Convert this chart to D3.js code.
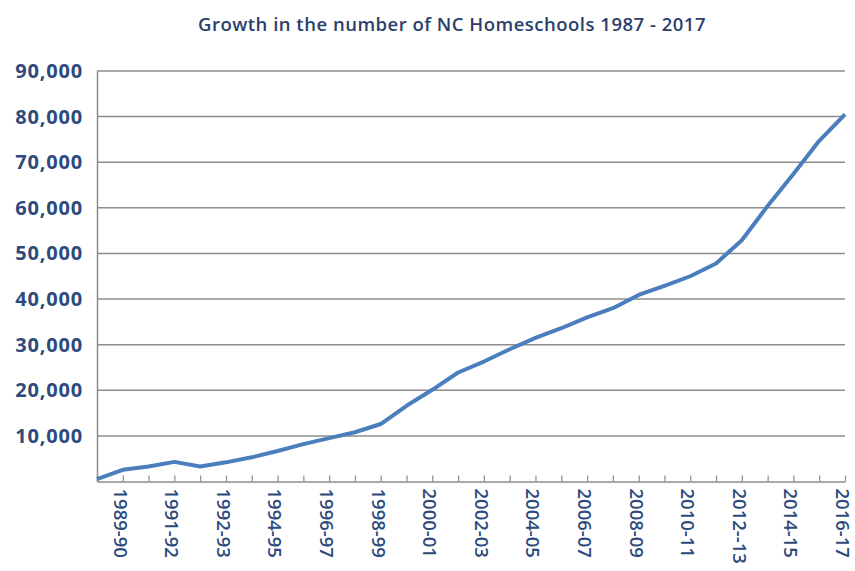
<!DOCTYPE html>
<html>
<head>
<meta charset="utf-8">
<script src="https://cdn.jsdelivr.net/npm/d3@7"></script>
<style>
  html, body { margin: 0; padding: 0; background: #fff; }
  svg { display: block; }
  .title { font-family: "Open Sans", sans-serif; font-weight: 600; font-size: 18.5px; fill: #2b3f6c; letter-spacing: 0.5px; }
  .y-axis text { font-family: "Open Sans", sans-serif; font-weight: 700; font-size: 20px; fill: #2d4a7c; letter-spacing: 0.8px; }
  .x-axis text { font-family: "Open Sans", sans-serif; font-weight: 600; font-size: 18.5px; fill: #2d4a7c; }
</style>
</head>
<body>
<div id="chart"></div>
<script>
// Number of NC homeschools per school year (30 years)
const homeschools = [
  500, 2560, 3300, 4300, 3300, 4200, 5300, 6700, 8200, 9500,
  10800, 12600, 16600, 20100, 23900, 26300, 29000, 31500, 33600, 36000,
  38000, 40900, 42900, 45000, 47800, 52900, 60400, 67400, 74700, 80500,
];

// Labels shown on every second category (as printed on the chart)
const tickLabels = [
  "1989-90", "1991-92", "1992-93", "1994-95", "1996-97", "1998-99", "2000-01", "2002-03",
  "2004-05", "2006-07", "2008-09", "2010-11", "2012--13", "2014-15", "2016-17",
];
const labelIndex = tickLabels.map((_, i) => 2 * i + 1);

const yTicks = [10000, 20000, 30000, 40000, 50000, 60000, 70000, 80000, 90000];

const width = 855;
const height = 571;
const margin = { top: 71, right: 10, bottom: 89.5, left: 97 };

const svg = d3.select("#chart").append("svg").attr("width", width).attr("height", height);

const x = d3.scaleLinear()
  .domain([0, homeschools.length - 1])
  .range([margin.left, width - margin.right]);

const y = d3.scaleLinear()
  .domain([0, 90000])
  .range([height - margin.bottom, margin.top]);

// Title
svg.append("text")
  .attr("class", "title")
  .attr("x", 452)
  .attr("y", 31)
  .attr("text-anchor", "middle")
  .text("Growth in the number of NC Homeschools 1987 - 2017");

// Horizontal gridlines
svg.append("g")
  .selectAll("line")
  .data(yTicks)
  .join("line")
  .attr("x1", margin.left)
  .attr("x2", width - margin.right)
  .attr("y1", (d) => y(d))
  .attr("y2", (d) => y(d))
  .attr("stroke", "#8c8c8c")
  .attr("stroke-width", 1.5);

// Y axis labels
const yAxis = svg.append("g")
  .attr("class", "y-axis")
  .attr("transform", `translate(${margin.left},0)`)
  .call(d3.axisLeft(y).tickValues(yTicks).tickSize(0).tickPadding(14).tickFormat(d3.format(",")));
yAxis.select(".domain").attr("stroke", "#8c8c8c").attr("stroke-width", 1.5);

// X axis: inside ticks on every category, labels on every second
const xAxis = svg.append("g")
  .attr("class", "x-axis")
  .attr("transform", `translate(0,${y(0)})`)
  .call(d3.axisBottom(x)
    .tickValues(d3.range(homeschools.length))
    .tickSizeInner(-6)
    .tickSizeOuter(0)
    .tickFormat((d) => {
      const i = labelIndex.indexOf(d);
      return i >= 0 ? tickLabels[i] : "";
    }));
xAxis.select(".domain").attr("stroke", "#8c8c8c").attr("stroke-width", 1.5);
xAxis.selectAll(".tick line").attr("stroke", "#8c8c8c").attr("stroke-width", 1.2);
xAxis.selectAll(".tick text")
  .attr("transform", "rotate(90)")
  .attr("x", 7)
  .attr("y", 0)
  .attr("dy", "0.52em")
  .attr("text-anchor", "start");

// The line
const line = d3.line()
  .x((d, i) => x(i))
  .y((d) => y(d));

svg.append("path")
  .datum(homeschools)
  .attr("fill", "none")
  .attr("stroke", "#4a7ebd")
  .attr("stroke-width", 4)
  .attr("stroke-linejoin", "round")
  .attr("d", line);
</script>
</body>
</html>
